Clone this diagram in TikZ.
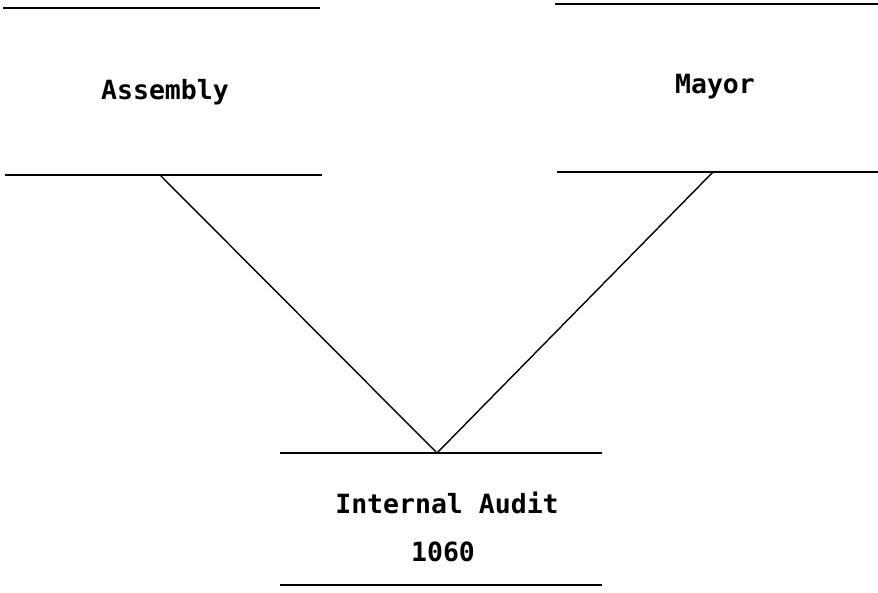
\documentclass[tikz,border=0pt]{standalone}
\usepackage{fontspec}
\setmonofont{DejaVu Sans Mono}
\begin{document}
\begin{tikzpicture}[x=1pt,y=-1pt,
  rule/.style={line width=1.6pt,black},
  conn/.style={line width=1.4pt,black},
  lbl/.style={font=\ttfamily\bfseries\fontsize{26.5}{30}\selectfont,inner sep=0pt,anchor=center}]
\useasboundingbox (0,0) rectangle (878,593);
% Assembly
\coordinate (asmTL) at (3,8);   \coordinate (asmTR) at (320,8);
\coordinate (asmBL) at (5,175); \coordinate (asmBR) at (322,175);
\coordinate (asmB) at (160,175);
\draw[rule] (asmTL) -- (asmTR);
\draw[rule] (asmBL) -- (asmBR);
\node[lbl] (assembly) at (165,92) {Assembly};
% Mayor
\coordinate (mayTL) at (555,4);   \coordinate (mayTR) at (878,4);
\coordinate (mayBL) at (557,172); \coordinate (mayBR) at (878,172);
\coordinate (mayB) at (713,172);
\draw[rule] (mayTL) -- (mayTR);
\draw[rule] (mayBL) -- (mayBR);
\node[lbl] (mayor) at (715,87) {Mayor};
% Internal Audit
\coordinate (iaTL) at (280,453); \coordinate (iaTR) at (602,453);
\coordinate (iaBL) at (280,585); \coordinate (iaBR) at (602,585);
\coordinate (iaT) at (437,453);
\draw[rule] (iaTL) -- (iaTR);
\draw[rule] (iaBL) -- (iaBR);
\node[lbl] (audit) at (447,503) {Internal Audit};
\node[lbl] (code) at (443,552) {1060};
% connectors
\draw[conn] (asmB) -- (iaT);
\draw[conn] (mayB) -- (iaT);
\end{tikzpicture}
\end{document}
